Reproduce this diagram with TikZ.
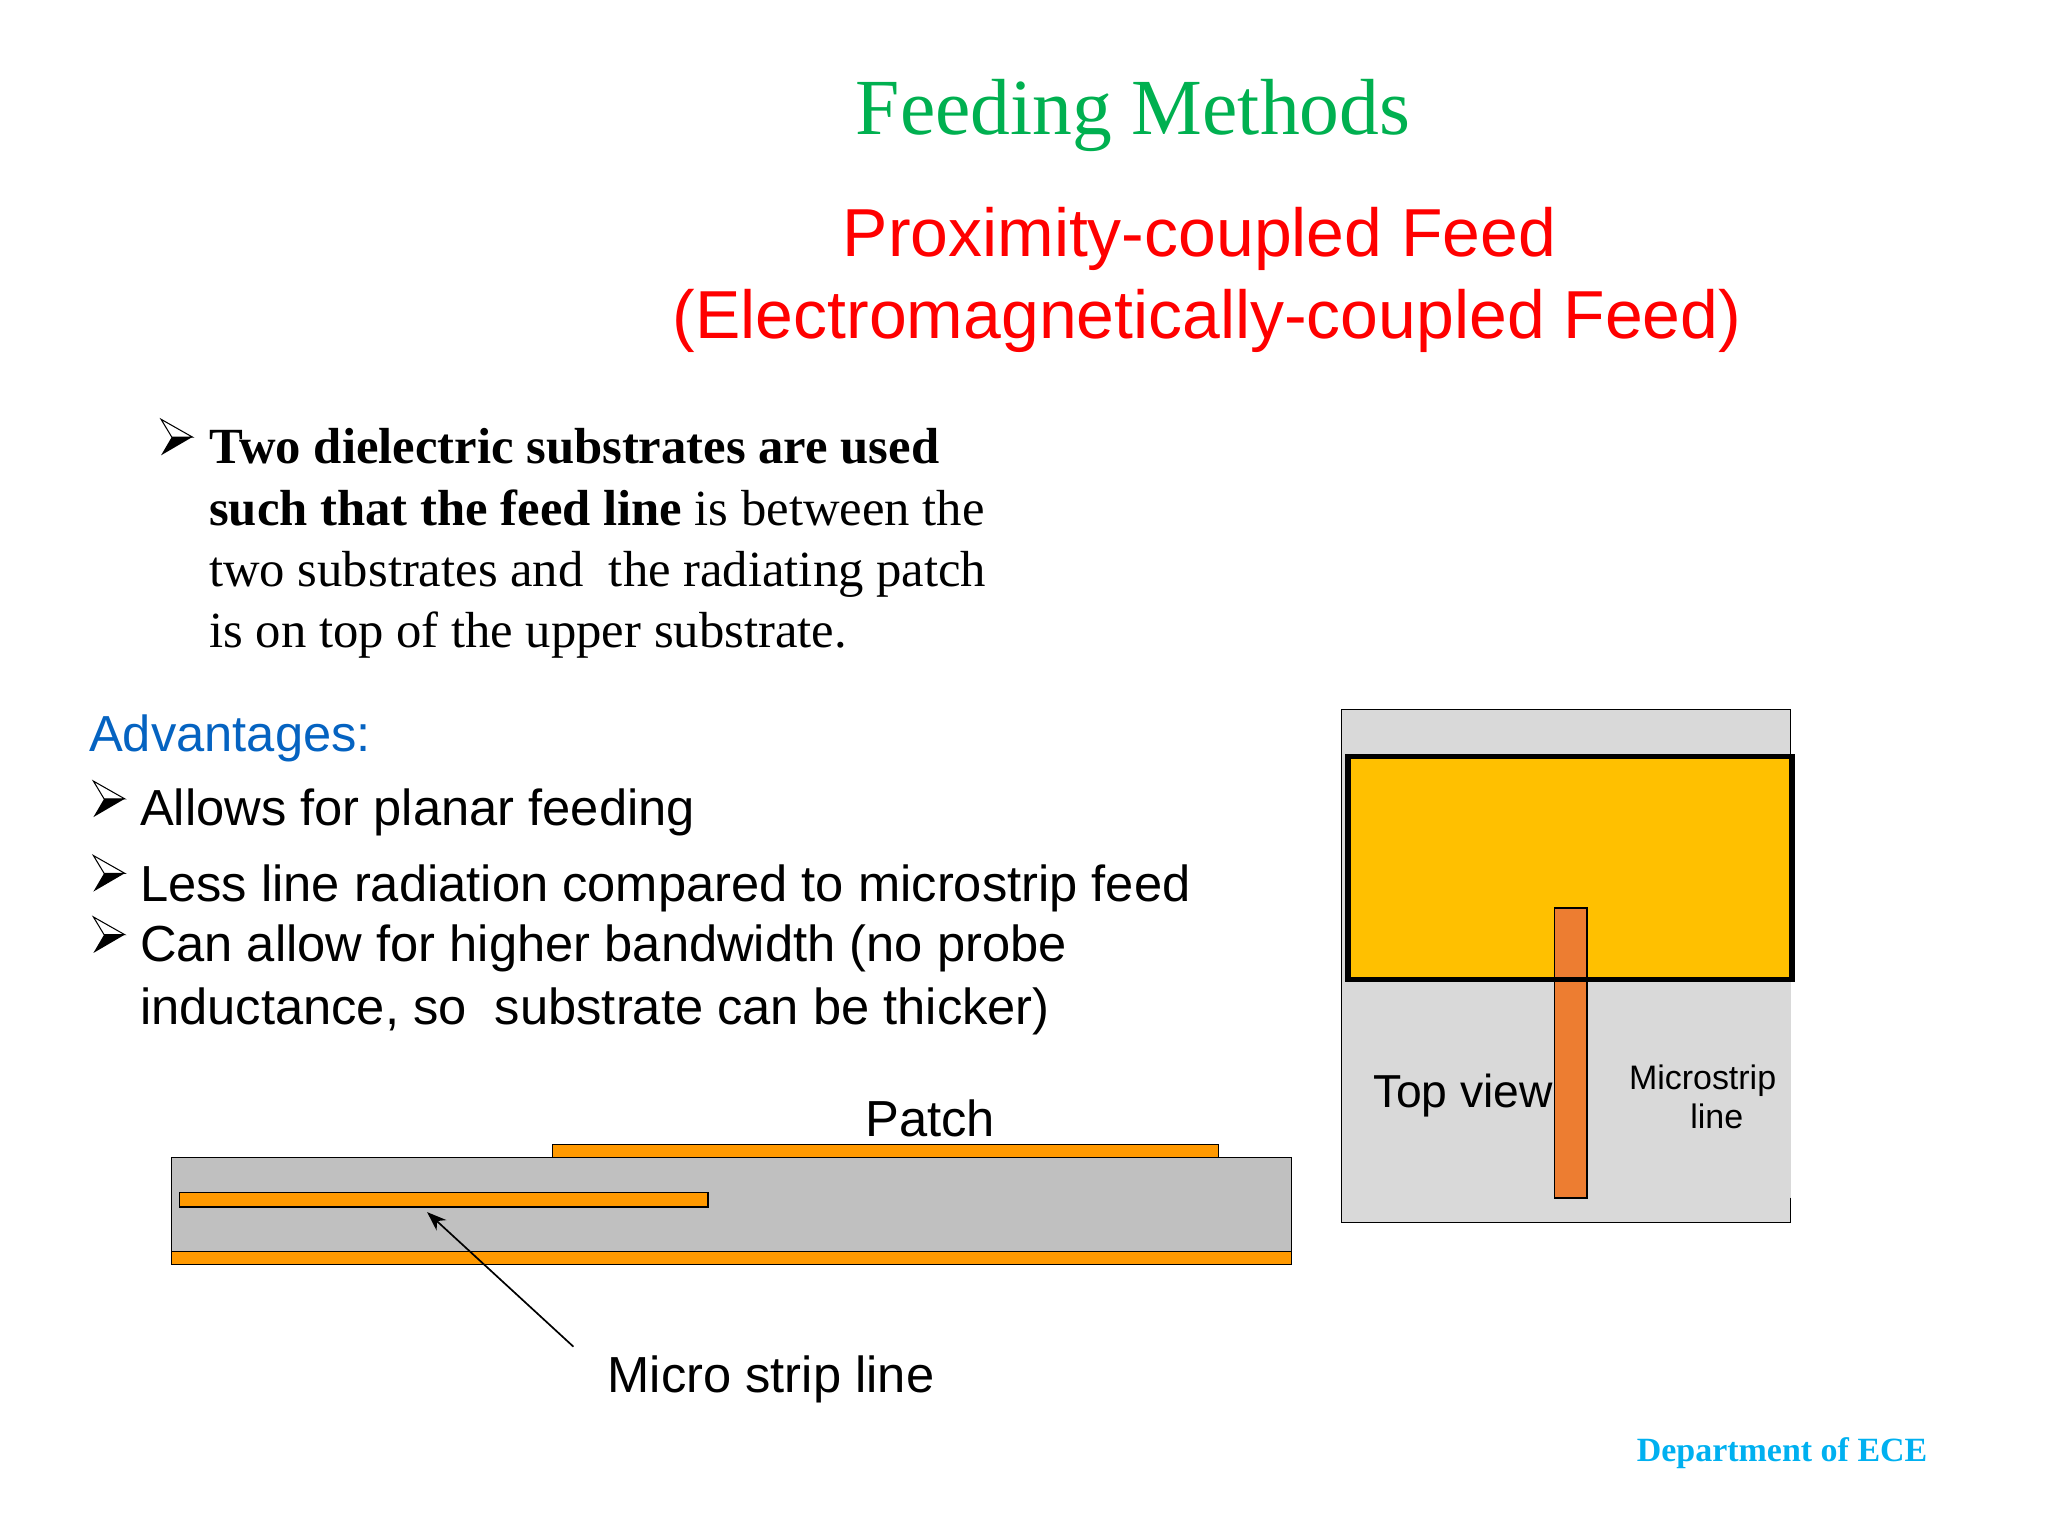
\documentclass[tikz,border=0pt]{standalone}
\usepackage{fontspec}
\setmainfont{Liberation Serif}
\setsansfont{Liberation Sans}
\definecolor{titlegreen}{HTML}{00B050}
\definecolor{headblue}{HTML}{0563C1}
\definecolor{deptblue}{HTML}{00B0F0}
\definecolor{subgray}{HTML}{C0C0C0}
\definecolor{topgray}{HTML}{D9D9D9}
\definecolor{metal}{HTML}{FF9900}
\definecolor{patchgold}{HTML}{FFC000}
\definecolor{feedorange}{HTML}{ED7D31}
\usetikzlibrary{arrows.meta}
\tikzset{
  txt/.style={anchor=base west, inner sep=0pt},
  bodyserif/.style={txt, font=\rmfamily\fontsize{38.8}{38.8}\selectfont},
  bodysans/.style={txt, font=\sffamily\fontsize{38.8}{38.8}\selectfont},
  redsans/.style={txt, text=red, font=\sffamily\fontsize{52}{52}\selectfont},
  metalbox/.style={draw=black, fill=metal, line width=1pt},
  bulletmark/.pic={
    \draw[fill=white, line width=0.8pt, line join=miter] (0,0) -- (24,13.6) -- (8.2,13.6) -- cycle;
    \fill[black] (0,27.6) -- (24,13.6) -- (8.2,13.6) -- cycle;
  },
}
\begin{document}
\begin{tikzpicture}[x=1pt, y=-1pt]
    \useasboundingbox (0,0) rectangle (1568,1176);

    \node[txt, font=\rmfamily\fontsize{60.9}{60.9}\selectfont, text=titlegreen] (title) at (655,103) {Feeding Methods};
    \node[redsans] (sub1) at (645,196) {Proximity-coupled Feed};
    \node[redsans] (sub2) at (515,259) {(Electromagnetically-coupled Feed)};

    \pic (b0) at (123.3,321) {bulletmark};
    \node[bodyserif] (l1) at (160,355) {\textbf{Two dielectric substrates are used}};
    \node[bodyserif] (l2) at (160,402) {\textbf{such that the feed line} is between the};
    \node[bodyserif] (l3) at (160,449) {two substrates and\ \ the radiating patch};
    \node[bodyserif] (l4) at (160,496) {is on top of the upper substrate.};

    \node[bodysans, text=headblue] (adv) at (68,575) {Advantages:};
    \pic (b1) at (71.5,598) {bulletmark};
    \node[bodysans] (a1) at (107,632) {Allows for planar feeding};
    \pic (b2) at (71.5,655) {bulletmark};
    \node[bodysans] (a2) at (107,690) {Less line radiation compared to microstrip feed};
    \pic (b3) at (71.5,702) {bulletmark};
    \node[bodysans] (a3) at (107,736) {Can allow for higher bandwidth (no probe};
    \node[bodysans] (a4) at (107,784) {inductance, so\ \ substrate can be thicker)};

    % side view
    \draw[fill=subgray, line width=1pt] (131.5,886) rectangle (989,958);
    \draw[metalbox] (131.5,958) rectangle (989,968);
    \draw[metalbox] (423,876) rectangle (933,886);
    \draw[metalbox] (137.5,913) rectangle (542,924);
    \node[bodysans] (patchlabel) at (662.5,870) {Patch};
    \node[bodysans] (striplabel) at (465,1066) {Micro strip line};
    \coordinate (tail) at (439,1031);
    \coordinate (tip) at (327,928);
    \draw[-{Stealth[length=15pt, width=11pt]}, line width=1.3pt] (tail) -- (tip);

    % top view
    \fill[topgray] (1027,543) rectangle (1371,936);
    \draw[line width=1pt] (1371,917) -- (1371,936) -- (1027,936) -- (1027,543) -- (1371,543) -- (1371,579);
    \fill[patchgold] (1032,579) rectangle (1372,750);
    \draw[fill=feedorange, line width=1.2pt] (1190,695) rectangle (1215,917);
    \draw[line width=4pt] (1032,579) rectangle (1372,750);
    \node[txt, font=\sffamily\fontsize{35.4}{35.4}\selectfont] (toplabel) at (1051,848) {Top view};
    \node[txt, font=\sffamily\fontsize{26}{26}\selectfont] (ms1) at (1247,834) {Microstrip};
    \node[txt, font=\sffamily\fontsize{26}{26}\selectfont] (ms2) at (1294,864) {line};

    \node[txt, font=\rmfamily\bfseries\fontsize{26}{26}\selectfont, text=deptblue] (dept) at (1253,1119) {Department of ECE};
\end{tikzpicture}
\end{document}
